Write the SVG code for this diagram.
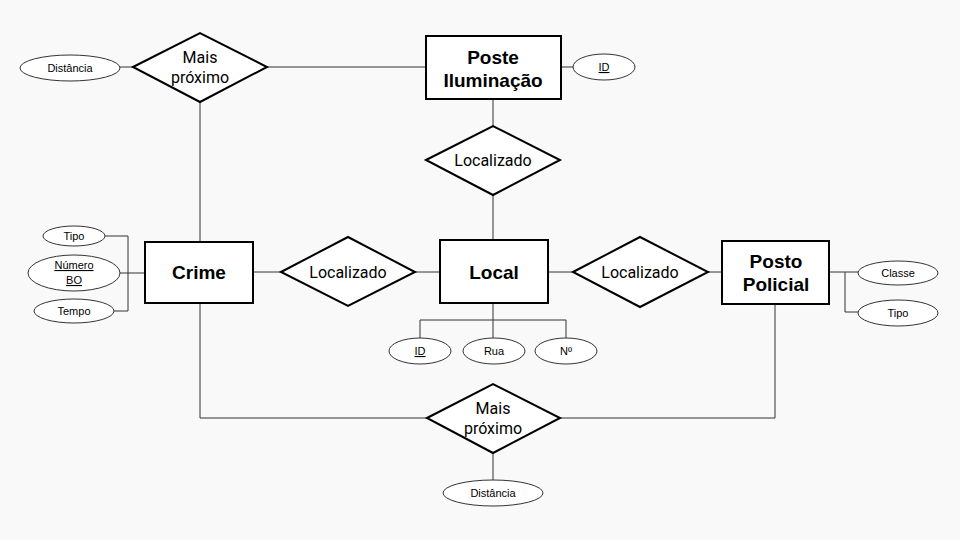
<svg xmlns="http://www.w3.org/2000/svg" width="960" height="540" viewBox="0 0 960 540">
<style>
.ent{fill:#fff;stroke:#000;stroke-width:2}
.rel{fill:#fff;stroke:#000;stroke-width:2;stroke-linejoin:miter}
.att{fill:#fff;stroke:#333;stroke-width:1}
.ln{fill:none;stroke:#333;stroke-width:1}
.et{font-family:"Liberation Sans",Arial,sans-serif;font-weight:bold;font-size:19px;fill:#000;text-anchor:middle}
.rt{font-family:Roboto,"Liberation Sans",sans-serif;font-size:16px;fill:#000;text-anchor:middle}
.at{font-family:"Liberation Sans",Arial,sans-serif;font-size:11px;fill:#000;text-anchor:middle}
</style>
<rect width="960" height="540" fill="#f9f9f9"/>
<g id="connectors">
<path class="ln" d="M120,67H133"/>
<path class="ln" d="M267,67H426"/>
<path class="ln" d="M200,102V242"/>
<path class="ln" d="M561,67H573"/>
<path class="ln" d="M493,99V126"/>
<path class="ln" d="M493,195V240"/>
<path class="ln" d="M253,272H281"/>
<path class="ln" d="M415,272H440"/>
<path class="ln" d="M548,272H573"/>
<path class="ln" d="M708,272H722"/>
<path class="ln" d="M200,303V418H427"/>
<path class="ln" d="M560,418H775V304"/>
<path class="ln" d="M493,453V480"/>
<path class="ln" d="M105,236H128V311H114M120,273H145"/>
<path class="ln" d="M493,303V320M420,338V320H566V338M493,320V338"/>
<path class="ln" d="M829,272H858M845,272V312H858"/>
</g>
<g id="rel-mais-proximo-top">
<polygon class="rel" points="133,67 200,33 267,67 200,102"/>
<text class="rt" x="200" y="63">Mais</text>
<text class="rt" x="200" y="83">próximo</text>
</g>
<g id="attr-distancia-top">
<ellipse class="att" cx="70" cy="68" rx="50" ry="13"/>
<text class="at" x="70" y="72">Distância</text>
</g>
<g id="ent-poste">
<rect class="ent" x="426" y="36" width="135" height="63"/>
<text class="et" x="493" y="64">Poste</text>
<text class="et" x="493" y="87">Iluminação</text>
</g>
<g id="attr-poste-id">
<ellipse class="att" cx="604" cy="67" rx="31" ry="13"/>
<text class="at" x="604" y="71" text-decoration="underline">ID</text>
</g>
<g id="rel-localizado-top">
<polygon class="rel" points="426,160 493,126 560,160 493,195"/>
<text class="rt" x="493" y="166">Localizado</text>
</g>
<g id="ent-crime">
<rect class="ent" x="145" y="242" width="108" height="61"/>
<text class="et" x="199" y="279">Crime</text>
</g>
<g id="attr-crime-tipo">
<ellipse class="att" cx="74" cy="236" rx="31" ry="10"/>
<text class="at" x="74" y="240">Tipo</text>
</g>
<g id="attr-crime-numero">
<ellipse class="att" cx="74" cy="273" rx="46" ry="18"/>
<text class="at" x="74" y="269" text-decoration="underline">Número</text>
<text class="at" x="74" y="284" text-decoration="underline">BO</text>
</g>
<g id="attr-crime-tempo">
<ellipse class="att" cx="74" cy="311" rx="40" ry="12"/>
<text class="at" x="74" y="315">Tempo</text>
</g>
<g id="rel-localizado-left">
<polygon class="rel" points="281,272 348,237 415,272 348,306"/>
<text class="rt" x="348" y="278">Localizado</text>
</g>
<g id="ent-local">
<rect class="ent" x="440" y="240" width="108" height="63"/>
<text class="et" x="494" y="279">Local</text>
</g>
<g id="attr-local-id">
<ellipse class="att" cx="420" cy="351" rx="31" ry="13"/>
<text class="at" x="420" y="355" text-decoration="underline">ID</text>
</g>
<g id="attr-local-rua">
<ellipse class="att" cx="494" cy="351" rx="31" ry="13"/>
<text class="at" x="494" y="355">Rua</text>
</g>
<g id="attr-local-num">
<ellipse class="att" cx="566" cy="351" rx="31" ry="13"/>
<text class="at" x="566" y="355">Nº</text>
</g>
<g id="rel-localizado-right">
<polygon class="rel" points="573,272 640,237 708,272 640,307"/>
<text class="rt" x="640" y="278">Localizado</text>
</g>
<g id="ent-posto">
<rect class="ent" x="722" y="241" width="107" height="63"/>
<text class="et" x="776" y="268">Posto</text>
<text class="et" x="776" y="291">Policial</text>
</g>
<g id="attr-posto-classe">
<ellipse class="att" cx="898" cy="273" rx="40" ry="12"/>
<text class="at" x="898" y="277">Classe</text>
</g>
<g id="attr-posto-tipo">
<ellipse class="att" cx="898" cy="313" rx="40" ry="13"/>
<text class="at" x="898" y="317">Tipo</text>
</g>
<g id="rel-mais-proximo-bottom">
<polygon class="rel" points="427,418 493,384 560,418 493,453"/>
<text class="rt" x="493" y="414">Mais</text>
<text class="rt" x="493" y="434">próximo</text>
</g>
<g id="attr-distancia-bottom">
<ellipse class="att" cx="493" cy="493" rx="50" ry="13"/>
<text class="at" x="493" y="497">Distância</text>
</g>
</svg>
